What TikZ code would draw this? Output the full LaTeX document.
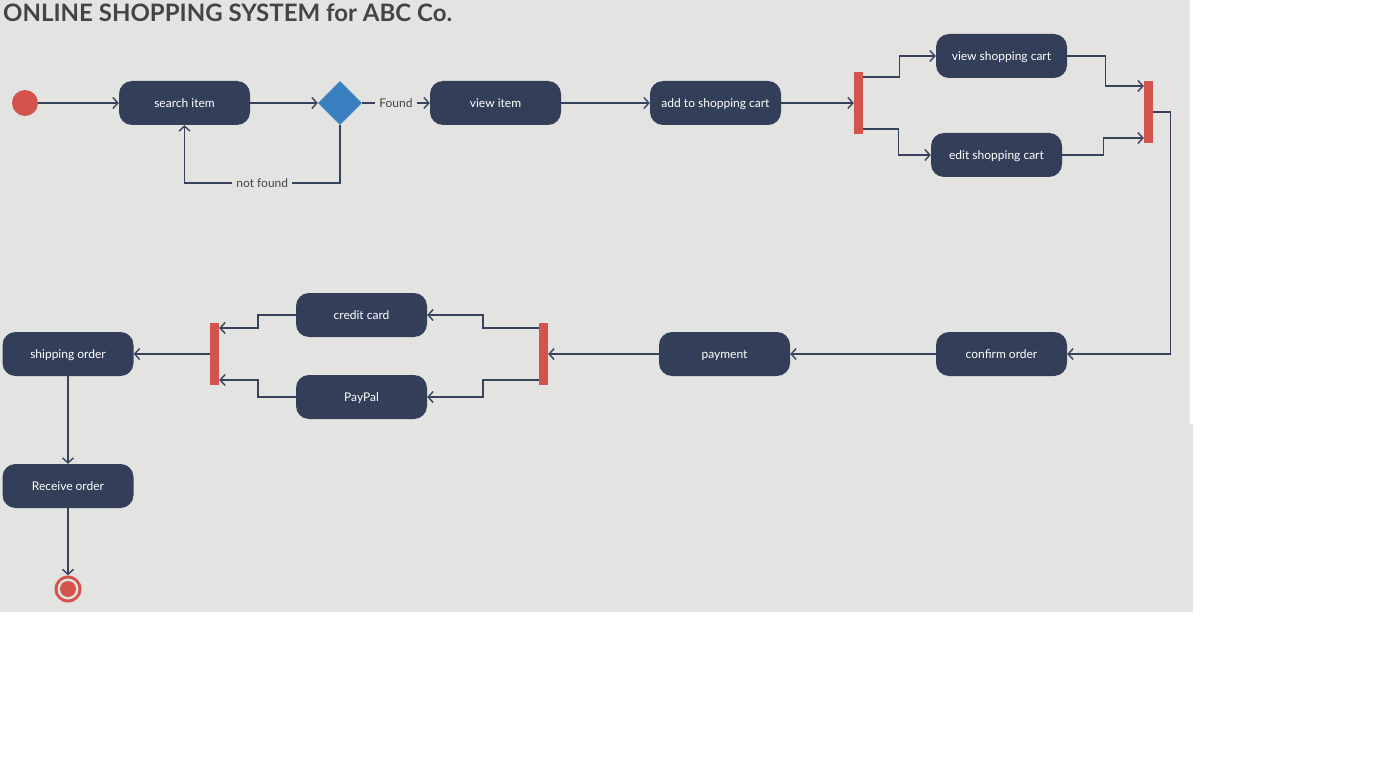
\documentclass[tikz,border=0pt]{standalone}
\usepackage{fontspec}
\setmainfont{Lato}
\usetikzlibrary{arrows.meta,shapes.geometric}
\definecolor{navy}{RGB}{51,63,88}
\definecolor{linec}{RGB}{55,66,92}
\definecolor{barred}{RGB}{212,83,77}
\definecolor{decblue}{RGB}{58,128,192}
\definecolor{bgc}{RGB}{227,227,225}
\definecolor{txtc}{RGB}{68,68,68}
\begin{document}
\begin{tikzpicture}[x=1pt,y=-1pt]
			\tikzstyle{every node}+=[inner sep=0pt]
			\tikzstyle{act}=[fill=navy, rounded corners=13pt, minimum width=131pt, minimum height=44pt, text height=10.5pt, text depth=1.5pt, text=white, font=\fontsize{12}{14}\selectfont]
			\tikzstyle{bar}=[fill=barred, minimum width=9pt, minimum height=62pt]
			\tikzstyle{flow}=[draw=linec, line width=1.4pt, -{Straight Barb[length=5pt,width=11pt,line width=1.4pt]}]
			\tikzstyle{lbl}=[fill=bgc, inner sep=4pt, text height=10.5pt, text depth=1.5pt, text=txtc, font=\fontsize{12}{14}\selectfont]
			\useasboundingbox (0,0) rectangle (1385,781);
			\fill [bgc] (0,0) rectangle (1190,424);
			\fill [bgc] (0,424) rectangle (1193,612);
			\node [anchor=base west, text=txtc, font=\fontsize{24}{28}\selectfont\bfseries] (title) at (3,22) {ONLINE SHOPPING SYSTEM for ABC Co.};
			\node [circle, fill=barred, minimum size=26pt] (start) at (25,103) {};
			\node [act] (search) at (184.5,103) {search item};
			\node [diamond, fill=decblue, minimum size=44pt] (dec) at (340,103) {};
			\node [act] (view) at (495.5,103) {view item};
			\node [act] (cart) at (715.5,103) {add to shopping cart};
			\node [bar] (fork1) at (858.5,103) {};
			\node [act] (vcart) at (1001.5,56) {view shopping cart};
			\node [act] (ecart) at (996.5,155) {edit shopping cart};
			\node [bar] (join1) at (1148.5,112) {};
			\node [act] (confirm) at (1001.5,354) {confirm order};
			\node [act] (pay) at (724.5,354) {payment};
			\node [bar] (fork2) at (543.5,354) {};
			\node [act] (credit) at (361.5,315) {credit card};
			\node [act] (paypal) at (361.5,397) {PayPal};
			\node [bar] (join2) at (214.5,354) {};
			\node [act] (ship) at (68,354) {shipping order};
			\node [act] (recv) at (68,486) {Receive order};
			\node [circle, fill=barred, minimum size=27pt] (stop) at (68,589) {};
			\fill [bgc] (stop) circle (10.5);
			\fill [barred] (stop) circle (8);
			\draw [flow] (start) -- (search);
			\draw [flow] (search) -- (dec);
			\draw [flow] (dec) -- node [lbl] {Found} (view);
			\draw [flow] (dec.south) -- ++(0,58) -| node [lbl, pos=0.25] {not found} (search.south);
			\draw [flow] (view) -- (cart);
			\draw [flow] (cart) -- (fork1);
			\draw [flow] ([yshift=26pt]fork1.east) -- ++(36,0) |- (vcart);
			\draw [flow] ([yshift=-26pt]fork1.east) -- ++(35,0) |- (ecart);
			\draw [flow] (vcart.east) -- ++(38,0) |- ([yshift=26pt]join1.west);
			\draw [flow] (ecart.east) -- ++(41,0) |- ([yshift=-26pt]join1.west);
			\draw [flow] (join1.east) -- ++(17,0) |- (confirm);
			\draw [flow] (confirm) -- (pay);
			\draw [flow] (pay) -- (fork2);
			\draw [flow] ([yshift=26pt]fork2.west) -- ++(-56,0) |- (credit);
			\draw [flow] ([yshift=-26pt]fork2.west) -- ++(-56,0) |- (paypal);
			\draw [flow] (credit.west) -- ++(-38,0) |- ([yshift=26pt]join2.east);
			\draw [flow] (paypal.west) -- ++(-38,0) |- ([yshift=-26pt]join2.east);
			\draw [flow] (join2) -- (ship);
			\draw [flow] (ship) -- (recv);
			\draw [flow] (recv) -- (stop);
\end{tikzpicture}
\end{document}
